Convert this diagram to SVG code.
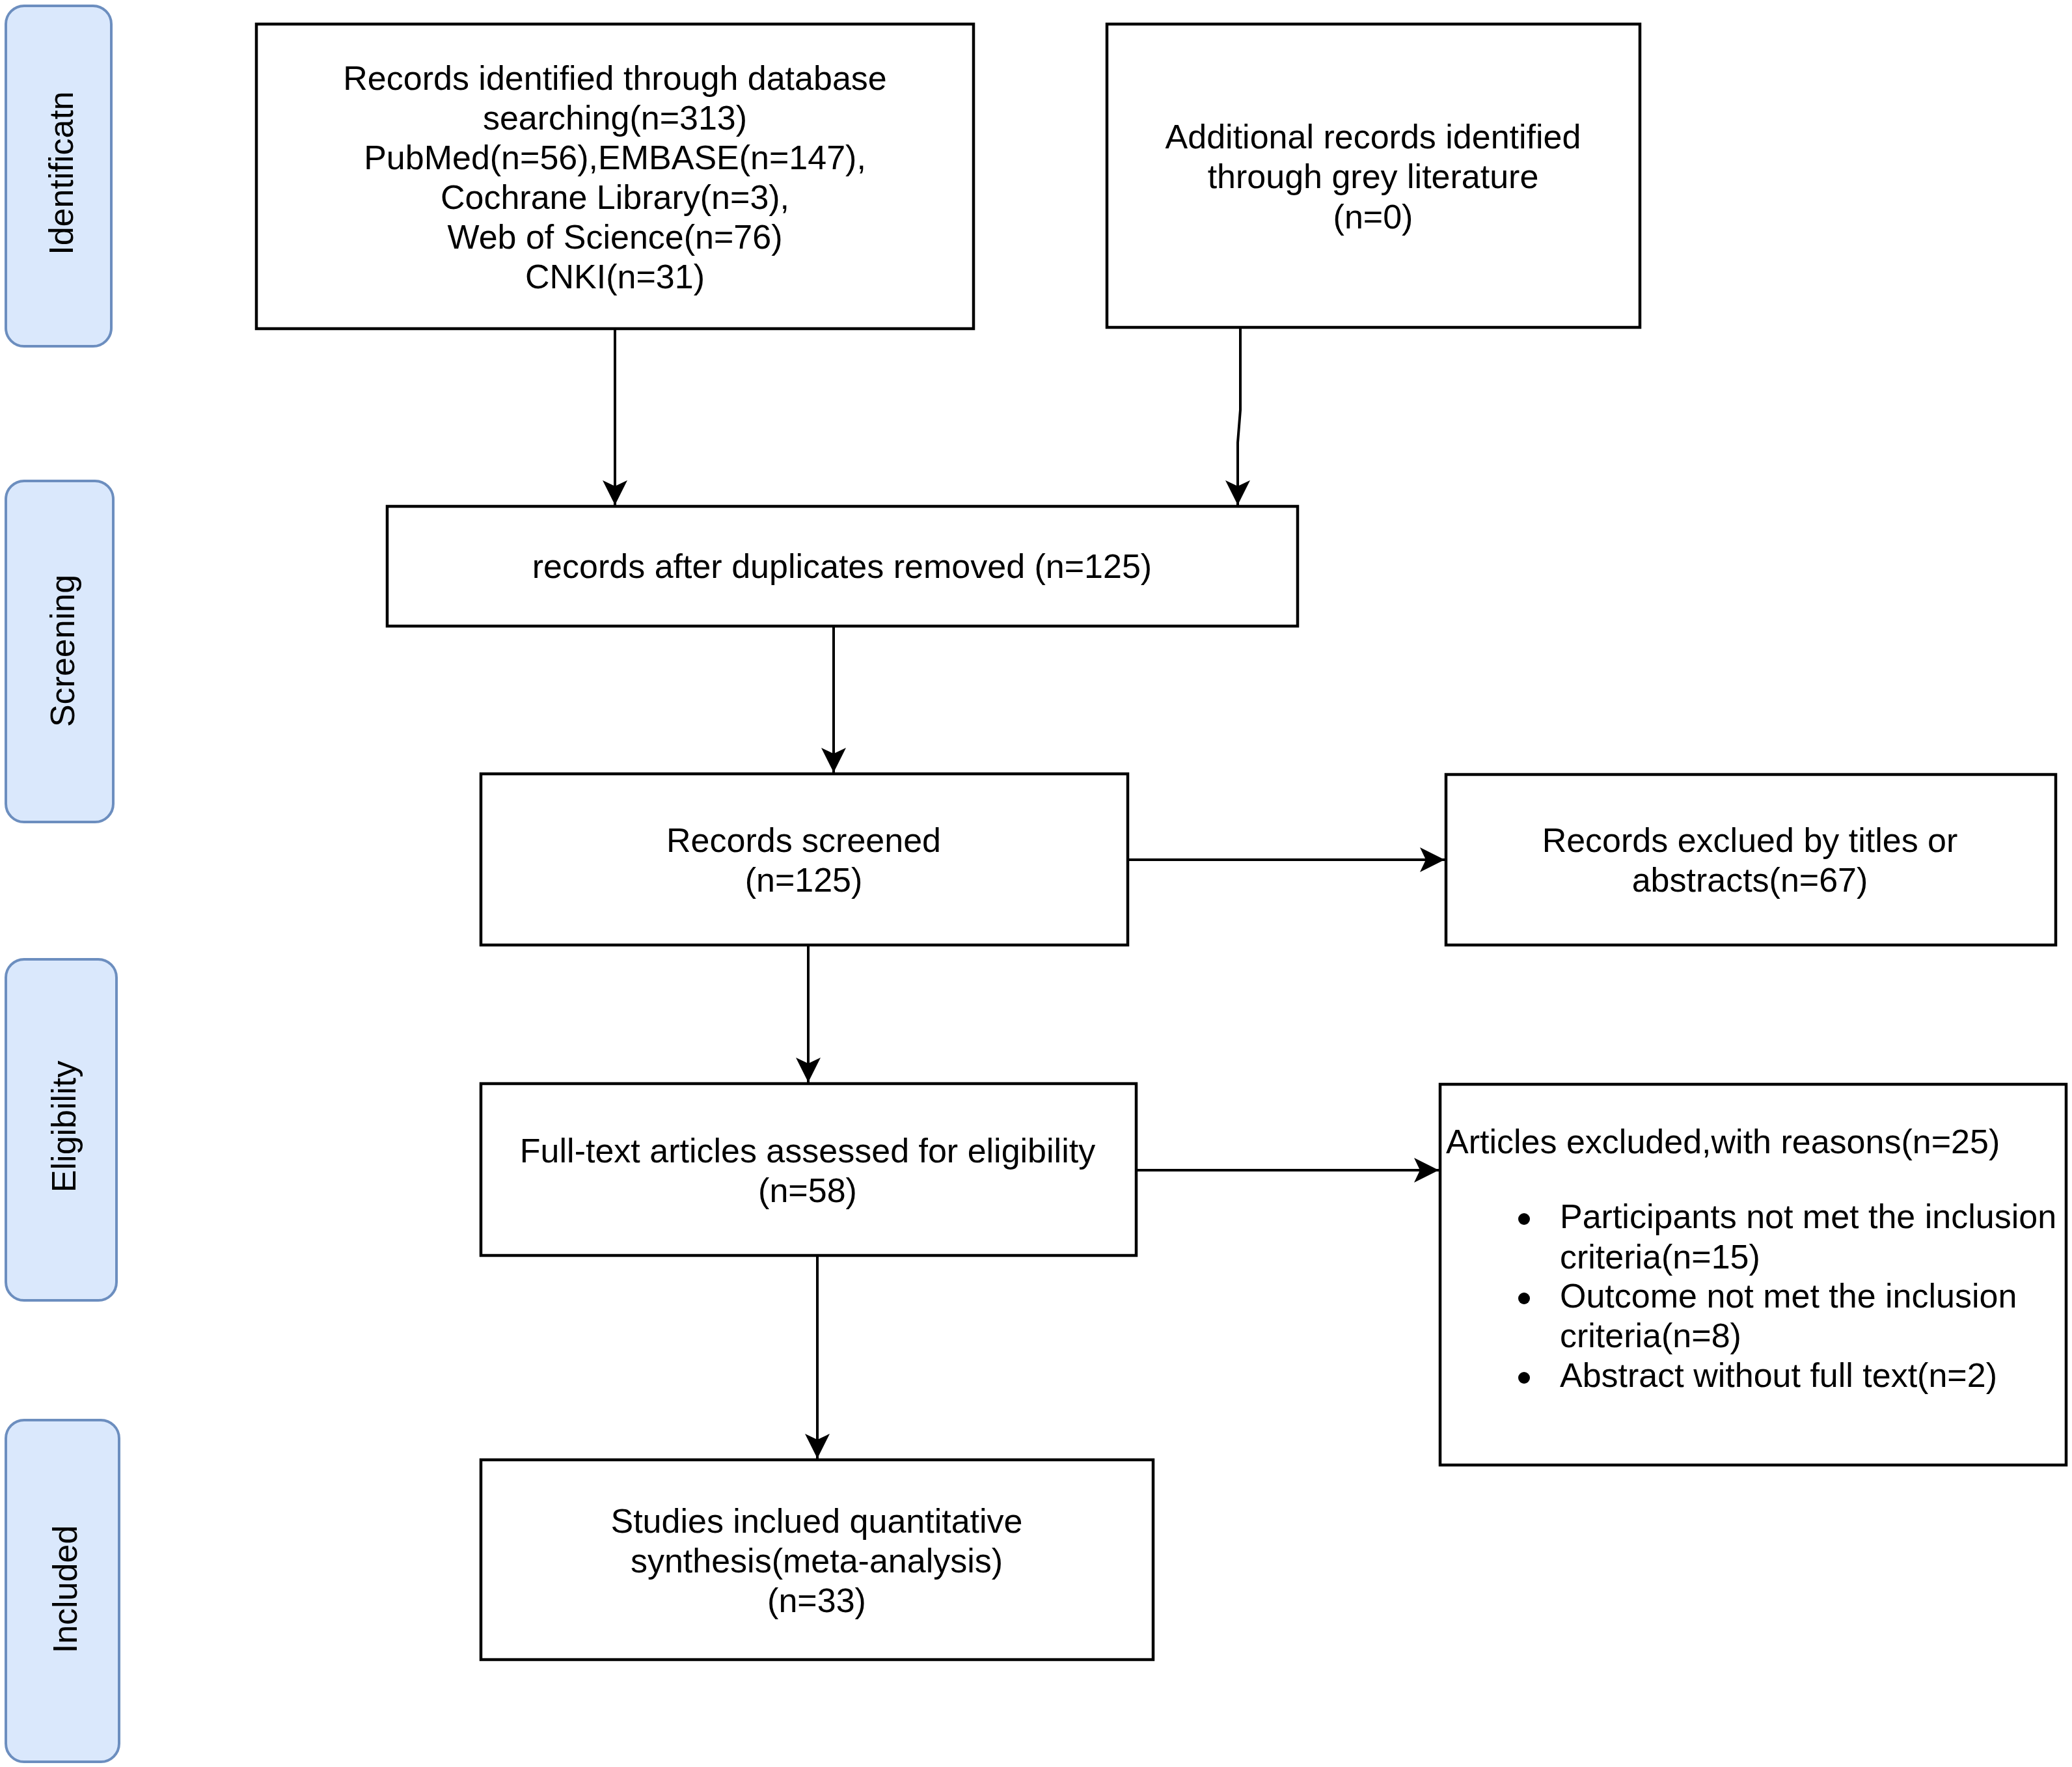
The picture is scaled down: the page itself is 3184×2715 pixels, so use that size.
<svg xmlns="http://www.w3.org/2000/svg" width="3184" height="2715" viewBox="0 0 3184 2715">
<style>
.lane{fill:#dae8fc;stroke:#6c8ebf;stroke-width:4}
.box{fill:#ffffff;stroke:#000000;stroke-width:4.5}
.t{font-family:"Liberation Sans",Arial,Helvetica,sans-serif;font-size:52px;fill:#000000}
.c{text-anchor:middle}
.edge{fill:none;stroke:#000000;stroke-width:4;marker-end:url(#arr)}
</style>
<defs>
<marker id="arr" markerUnits="userSpaceOnUse" markerWidth="42" markerHeight="42" viewBox="-40 -21 42 42" refX="0" refY="0" orient="auto">
<path d="M0,0 L-38,-19 L-29,0 L-38,19 Z" fill="#000000"/>
</marker>
</defs>
<rect width="3184" height="2715" fill="#ffffff"/>

<g id="lane-identification">
<rect class="lane" x="9" y="9" width="162" height="523" rx="28" ry="28"/>
<text class="t c" transform="translate(112,266) rotate(-90)">Identificatn</text>
</g>
<g id="lane-screening">
<rect class="lane" x="9" y="739" width="165" height="524" rx="28" ry="28"/>
<text class="t c" transform="translate(114,1000) rotate(-90)">Screening</text>
</g>
<g id="lane-eligibility">
<rect class="lane" x="9" y="1474" width="170" height="524" rx="28" ry="28"/>
<text class="t c" transform="translate(116,1731) rotate(-90)">Eligibility</text>
</g>
<g id="lane-included">
<rect class="lane" x="9" y="2182" width="174" height="525" rx="28" ry="28"/>
<text class="t c" transform="translate(118,2442) rotate(-90)">Included</text>
</g>

<g id="node-database">
<rect class="box" x="394" y="37" width="1102" height="468"/>
<text class="t c" x="945" y="138">Records identified through database</text>
<text class="t c" x="945" y="199">searching(n=313)</text>
<text class="t c" x="945" y="260">PubMed(n=56),EMBASE(n=147),</text>
<text class="t c" x="945" y="321">Cochrane Library(n=3),</text>
<text class="t c" x="945" y="382">Web of Science(n=76)</text>
<text class="t c" x="945" y="443">CNKI(n=31)</text>
</g>
<g id="node-grey">
<rect class="box" x="1701" y="37" width="819" height="466"/>
<text class="t c" x="2110" y="228">Additional records identified</text>
<text class="t c" x="2110" y="289">through grey literature</text>
<text class="t c" x="2110" y="351">(n=0)</text>
</g>
<g id="node-duplicates">
<rect class="box" x="595" y="778" width="1399" height="184"/>
<text class="t c" x="1294" y="888">records after duplicates removed (n=125)</text>
</g>
<g id="node-screened">
<rect class="box" x="739" y="1189" width="994" height="263"/>
<text class="t c" x="1235" y="1309">Records screened</text>
<text class="t c" x="1235" y="1370">(n=125)</text>
</g>
<g id="node-excluded-titles">
<rect class="box" x="2222" y="1190" width="937" height="262"/>
<text class="t c" x="2689" y="1309">Records exclued by titles or</text>
<text class="t c" x="2689" y="1370">abstracts(n=67)</text>
</g>
<g id="node-fulltext">
<rect class="box" x="739" y="1665" width="1007" height="264"/>
<text class="t c" x="1241" y="1786">Full-text articles assessed for eligibility</text>
<text class="t c" x="1241" y="1847">(n=58)</text>
</g>
<g id="node-excluded-reasons">
<rect class="box" x="2213" y="1666" width="962" height="585"/>
<text class="t" x="2222" y="1772">Articles excluded,with reasons(n=25)</text>
<circle cx="2342" cy="1873" r="9" fill="#000000"/>
<text class="t" x="2397" y="1887">Participants not met the inclusion</text>
<text class="t" x="2397" y="1949">criteria(n=15)</text>
<circle cx="2342" cy="1995" r="9" fill="#000000"/>
<text class="t" x="2397" y="2009">Outcome not met the inclusion</text>
<text class="t" x="2397" y="2070">criteria(n=8)</text>
<circle cx="2342" cy="2117" r="9" fill="#000000"/>
<text class="t" x="2397" y="2131">Abstract without full text(n=2)</text>
</g>
<g id="node-included">
<rect class="box" x="739" y="2243" width="1033" height="307"/>
<text class="t c" x="1255" y="2355">Studies inclued quantitative</text>
<text class="t c" x="1255" y="2416">synthesis(meta-analysis)</text>
<text class="t c" x="1255" y="2477">(n=33)</text>
</g>

<g id="connectors">
<path class="edge" d="M945,505 L945,776"/>
<path class="edge" d="M1906,503 L1906,630 L1902,680 L1902,776"/>
<path class="edge" d="M1281,962 L1281,1187"/>
<path class="edge" d="M1733,1321 L2220,1321"/>
<path class="edge" d="M1242,1452 L1242,1663"/>
<path class="edge" d="M1746,1798 L2211,1798"/>
<path class="edge" d="M1256,1929 L1256,2241"/>
</g>
</svg>
